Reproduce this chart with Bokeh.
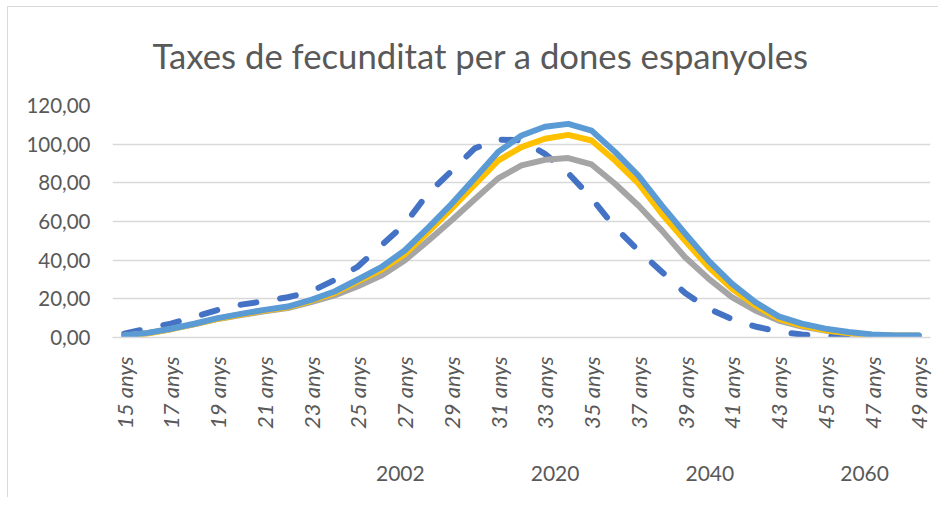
import math
from bokeh.plotting import figure
from bokeh.layouts import column
from bokeh.models import FixedTicker, Legend, LegendItem, ColumnDataSource
from bokeh.embed import file_html
from bokeh.resources import INLINE

ages = list(range(15, 50))
age_labels = [f"{a} anys" for a in ages]
y_ticks = [0, 20, 40, 60, 80, 100, 120]
y_tick_labels = ["0,00", "20,00", "40,00", "60,00", "80,00", "100,00", "120,00"]

series_names = ["2002", "2020", "2040", "2060"]
v2002 = [2.0, 4.6, 7.2, 10.7, 14.2, 17.0, 18.8, 20.8, 23.8, 29.7, 36.7, 47.6, 58.5, 74.5, 86.0,
         97.8, 102.4, 102.0, 95.0, 85.0, 72.0, 57.0, 45.0, 34.0, 23.0, 15.0, 9.5, 5.7, 3.0, 1.5,
         0.7, 0.4, 0.3, 0.2, 0.2]
v2020 = [0.8, 2.2, 4.3, 6.8, 9.6, 11.6, 13.6, 15.2, 18.3, 21.8, 26.5, 32.0, 39.8, 50.0, 60.5,
         71.5, 82.3, 89.0, 91.9, 92.8, 89.5, 79.5, 68.3, 55.4, 41.5, 30.5, 20.9, 14.0, 8.8, 5.7,
         3.6, 2.2, 1.3, 1.0, 1.0]
v2040 = [0.9, 2.2, 4.3, 6.9, 9.7, 11.9, 14.0, 15.6, 19.0, 23.0, 29.0, 35.0, 43.0, 54.5, 66.5,
         79.0, 91.5, 98.5, 102.8, 104.8, 101.9, 91.5, 79.7, 64.0, 50.0, 36.4, 25.3, 16.6, 9.8, 6.2,
         3.8, 2.3, 1.3, 0.9, 0.9]
v2060 = [1.0, 2.4, 4.5, 7.1, 10.0, 12.2, 14.3, 16.0, 19.5, 23.8, 30.0, 36.4, 45.0, 56.7, 69.0,
         82.4, 96.0, 104.5, 109.0, 110.5, 107.0, 96.0, 83.8, 68.3, 53.8, 39.8, 27.9, 18.3, 10.9, 7.2,
         4.6, 2.8, 1.5, 1.0, 1.0]

colors = ["#4472C4", "#A5A5A5", "#FFC000", "#5B9BD5"]

FONT = "Lato"
TXT = "#595959"

idx = list(range(len(ages)))
src = ColumnDataSource(dict(x=idx, v2002=v2002, v2020=v2020, v2040=v2040, v2060=v2060))

p = figure(frame_width=818, frame_height=232, output_backend="svg", toolbar_location=None,
           x_range=(-0.5, len(ages) - 0.5), y_range=(0, 120),
           min_border_left=104, min_border_right=8, min_border_top=98, min_border_bottom=110,
           title="Taxes de fecunditat per a dones espanyoles")
p.outline_line_color = None
p.background_fill_color = "white"

p.title.align = "left"
p.title.offset = 40
p.title.vertical_align = "top"
p.title.text_font = FONT
p.title.text_font_size = "34.7px"
p.title.text_font_style = "normal"
p.title.text_color = TXT
p.title.standoff = 55

# x axis
p.xaxis.ticker = FixedTicker(ticks=idx[::2])
p.xaxis.major_label_overrides = {i: age_labels[i] for i in idx}
p.xaxis.major_label_orientation = math.pi / 2
p.xaxis.major_label_text_font = FONT
p.xaxis.major_label_text_font_style = "italic"
p.xaxis.major_label_text_font_size = "22px"
p.xaxis.major_label_text_color = TXT
p.xaxis.major_label_standoff = 13
p.xaxis.major_tick_line_color = None
p.xaxis.minor_tick_line_color = None
p.xaxis.axis_line_color = "#D9D9D9"
p.xaxis.axis_line_width = 1.5

# y axis
p.yaxis.ticker = FixedTicker(ticks=y_ticks)
p.yaxis.major_label_overrides = {t: l for t, l in zip(y_ticks, y_tick_labels)}
p.yaxis.major_label_text_font = FONT
p.yaxis.major_label_text_font_size = "20.5px"
p.yaxis.major_label_text_color = TXT
p.yaxis.major_label_standoff = 16
p.yaxis.major_tick_line_color = None
p.yaxis.minor_tick_line_color = None
p.yaxis.axis_line_color = None

p.xgrid.grid_line_color = None
p.ygrid.grid_line_color = "#D9D9D9"
p.ygrid.grid_line_width = 1.3

def add_series(fig, source):
    rs = []
    for name, col in zip(series_names, colors):
        if name == "2002":
            r = fig.line("x", "v" + name, source=source, line_color=col, line_width=6,
                         line_dash="16 24", line_cap="round", line_join="round")
        else:
            r = fig.line("x", "v" + name, source=source, line_color=col, line_width=6,
                         line_cap="round", line_join="round")
        rs.append(r)
    return rs

add_series(p, src)

# legend strip below the chart (legend swatches use the same line styles)
lf = figure(width=930, height=50, output_backend="svg", toolbar_location=None,
            x_axis_type=None, y_axis_type=None, x_range=(0, 1), y_range=(0, 1),
            min_border_left=0, min_border_right=0, min_border_top=0, min_border_bottom=0)
lf.outline_line_color = None
lf.xgrid.grid_line_color = None
lf.ygrid.grid_line_color = None
empty = ColumnDataSource(dict(x=[], v2002=[], v2020=[], v2040=[], v2060=[]))
lrs = add_series(lf, empty)
items = [LegendItem(label=n, renderers=[r]) for n, r in zip(series_names, lrs)]
legend = Legend(items=items, orientation="horizontal", location=(186, 12),
                label_text_font=FONT, label_text_font_size="21px", label_text_color=TXT,
                glyph_width=70, glyph_height=20, label_standoff=8, spacing=28,
                margin=0, padding=0, border_line_color=None, background_fill_alpha=0)
lf.add_layout(legend, "center")

layout = column(p, lf, spacing=0,
                styles={"margin-left": "7px", "margin-top": "6px",
                        "border-left": "1px solid #D9D9D9", "border-top": "1px solid #D9D9D9"})

open("out.html", "w").write(file_html(layout, INLINE))
